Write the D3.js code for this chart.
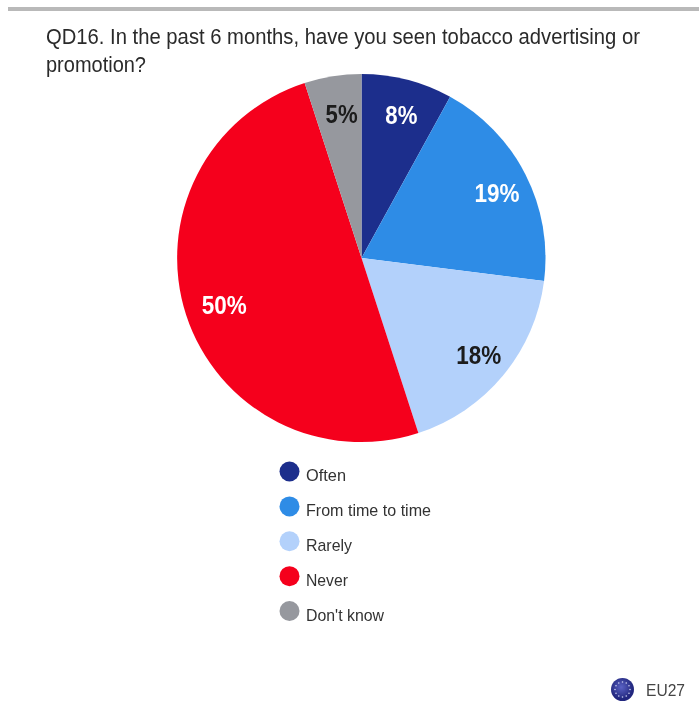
<!DOCTYPE html>
<html><head><meta charset="utf-8">
<script src="https://cdn.jsdelivr.net/npm/d3@7"></script>
<style>html,body{margin:0;padding:0;background:#fff}svg{display:block}text{font-family:"Liberation Sans",Arial,sans-serif}</style>
</head><body><svg id="c" width="699" height="709"></svg>
<script>
const categories=["Often","From time to time","Rarely","Never","Don't know"];
const values=[8,19,18,50,5];
const colors=["#1f2f8c","#2f8ce6","#b3d1fb","#f5001f","#96989e"];
const labelColors=["#fff","#fff","#1a1a1a","#fff","#1a1a1a"];
const titleLines=["QD16. In the past 6 months, have you seen tobacco advertising or","promotion?"];
const badge="EU27";

const svg=d3.select("#c");
const defs=svg.append("defs");
defs.append("filter").attr("id","soft").append("feGaussianBlur").attr("stdDeviation",0.45);
const root=svg.append("g").attr("filter","url(#soft)");
root.append("rect").attr("x",0).attr("y",0).attr("width",699).attr("height",709).attr("fill","#fff");
root.append("rect").attr("x",8).attr("y",7).attr("width",691).attr("height",4).attr("fill","#b9b9b9");
root.append("g").selectAll("text").data(titleLines).join("text")
  .attr("x",46).attr("y",(d,i)=>43.5+i*28).attr("font-size",21.5).attr("fill","#2b2b2b")
  .attr("textLength",(d,i)=>i==0?594:100).attr("lengthAdjust","spacingAndGlyphs").text(d=>d);

const R=184,cx=361.5,cy=258;
const pie=d3.pie().sort(null)(values);
const arc=d3.arc().innerRadius(0).outerRadius(R);
const g=root.append("g").attr("transform",`translate(${cx},${cy})`);
g.selectAll("path").data(pie).join("path").attr("d",arc).attr("fill",(d,i)=>colors[i]);
const labelR=[0.805,0.82,0.82,0.79,0.795], nudgeX=[3,1,1,1,3], nudgeY=[0,3,0,2,0];
g.selectAll("text").data(pie).join("text")
  .attr("transform",(d,i)=>{const a=(d.startAngle+d.endAngle)/2,r=R*labelR[i];return `translate(${r*Math.sin(a)+nudgeX[i]},${-r*Math.cos(a)+nudgeY[i]})`;})
  .attr("text-anchor","middle").attr("dy","0.36em")
  .attr("font-size",26).attr("font-weight","bold").attr("fill",(d,i)=>labelColors[i])
  .attr("textLength",(d,i)=>d.value<10?32:45).attr("lengthAdjust","spacingAndGlyphs")
  .text(d=>d.value+"%");

const ly=d3.scalePoint().domain(categories).range([471.5,611]);
const lg=root.append("g");
lg.selectAll("circle").data(categories).join("circle")
  .attr("cx",289.5).attr("cy",d=>ly(d)).attr("r",10).attr("fill",(d,i)=>colors[i]);
lg.selectAll("text").data(categories).join("text")
  .attr("x",306).attr("y",d=>ly(d)+9.5).attr("font-size",17).attr("fill","#333")
  .attr("textLength",(d,i)=>[40,125,46,42,78][i]).attr("lengthAdjust","spacingAndGlyphs").text(d=>d);

const grad=defs.append("radialGradient").attr("id","eu").attr("cx","45%").attr("cy","40%");
grad.append("stop").attr("offset","0%").attr("stop-color","#5a62c4");
grad.append("stop").attr("offset","100%").attr("stop-color","#23287f");
root.append("circle").attr("cx",622.5).attr("cy",689.5).attr("r",11.5).attr("fill","url(#eu)");
const starAngle=d3.scaleLinear().domain([0,12]).range([0,2*Math.PI]);
root.append("g").attr("transform","translate(622.5,689.5)").selectAll("circle").data(d3.range(12)).join("circle")
  .attr("cx",d=>7.5*Math.sin(starAngle(d))).attr("cy",d=>-7.5*Math.cos(starAngle(d))).attr("r",0.8).attr("fill","#c9cdf0");
root.append("text").attr("x",646).attr("y",696).attr("font-size",17).attr("fill","#444")
  .attr("textLength",39).attr("lengthAdjust","spacingAndGlyphs").text(badge);
</script></body></html>
